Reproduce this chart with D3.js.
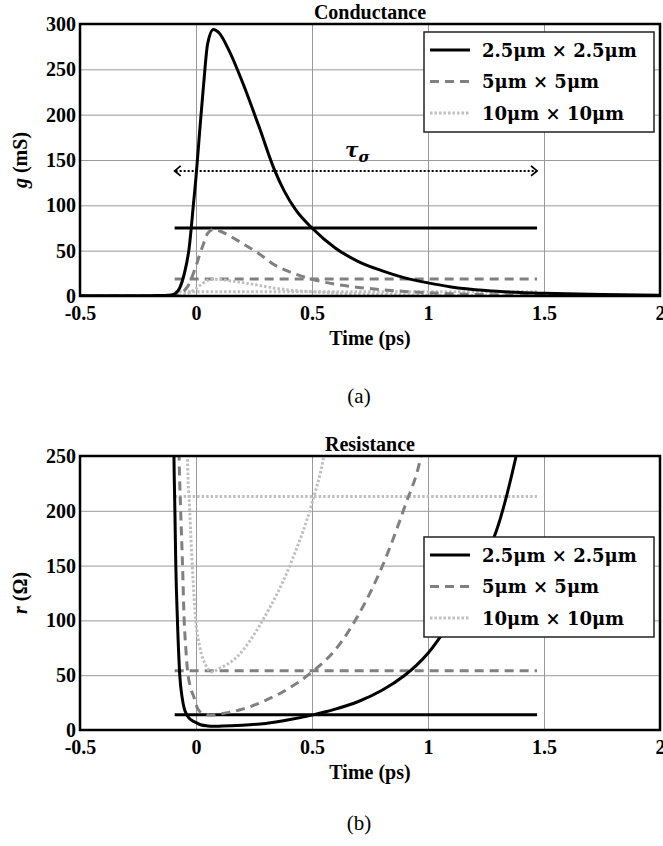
<!DOCTYPE html>
<html lang="en">
<head>
    <meta charset="UTF-8">
    <title>Conductance and Resistance</title>
    <style>
        body { margin: 0; background: #fff; }
        text { font-family: "Liberation Serif", "Times New Roman", serif; }
    </style>
</head>
<body>
<script src="https://cdn.jsdelivr.net/npm/d3@7/dist/d3.min.js"></script>
<script>
    // series labels and style per pad size
    const seriesNames = ["2.5\u03bcm \u00d7 2.5\u03bcm", "5\u03bcm \u00d7 5\u03bcm", "10\u03bcm \u00d7 10\u03bcm"];

    // tick labels
    const xTicks = [-0.5, 0, 0.5, 1, 1.5, 2];
    const gTicks = [0, 50, 100, 150, 200, 250, 300];
    const rTicks = [0, 50, 100, 150, 200, 250];

    // conductance (mS) vs time (ps)
    const tG = [-0.5, -0.3, -0.2, -0.15, -0.12, -0.1, -0.09, -0.07, -0.05, -0.03, -0.01, 0, 0.015, 0.033, 0.05, 0.075, 0.1, 0.14, 0.2, 0.27, 0.34, 0.38, 0.43, 0.5, 0.6, 0.7, 0.8, 0.9, 1.0, 1.1, 1.25, 1.4, 1.5, 1.75, 2.0];
    const gBlack = [0.3, 0.3, 0.4, 0.5, 0.8, 1.5, 2.5, 9, 25, 52, 104, 131, 179, 234, 278, 294, 290, 272, 236, 188, 138, 116, 95, 75, 53, 38, 28, 20, 14.5, 10, 6, 3.8, 3, 1.6, 0.8];
    const gDash = [0.1, 0.1, 0.1, 0.1, 0.2, 0.4, 0.6, 2.2, 6, 13, 26, 33, 45, 58, 69, 73.5, 72, 67, 58, 47, 34, 29, 24, 18.5, 13, 9.5, 7, 5, 3.6, 2.5, 1.5, 1, 0.8, 0.4, 0.2];
    const gDot = [0.02, 0.02, 0.03, 0.03, 0.05, 0.1, 0.2, 0.6, 1.6, 3.3, 6.5, 8.2, 11.2, 14.6, 17.4, 18.4, 18.1, 17, 14.8, 11.8, 8.6, 7.3, 5.9, 4.7, 3.3, 2.4, 1.8, 1.3, 0.9, 0.6, 0.35, 0.24, 0.19, 0.1, 0.05];
    const gMean = [75, 18.7, 4.7];

    // resistance (ohm) vs time (ps)
    const tRBlack = [-0.1, -0.095, -0.091, -0.087, -0.08, -0.07, -0.06, -0.051, -0.04, -0.026, -0.012, 0, 0.02, 0.05, 0.075, 0.1, 0.15, 0.2, 0.3, 0.4, 0.5, 0.6, 0.7, 0.8, 0.9, 0.95, 1.0, 1.05, 1.1, 1.15, 1.2, 1.25, 1.3, 1.38, 1.42];
    const rBlack = [400, 250, 200, 150, 100, 50, 30, 20, 14, 10, 8, 6.8, 4.8, 3.7, 3.4, 3.5, 3.8, 4.3, 6, 9.3, 13.6, 19, 26, 36, 50, 59, 70, 84, 100, 116, 135, 158, 185, 250, 290];
    const tRDash = [-0.08, -0.073, -0.066, -0.058, -0.051, -0.044, -0.037, -0.025, -0.009, 0.006, 0.03, 0.07, 0.1, 0.2, 0.3, 0.4, 0.5, 0.6, 0.7, 0.8, 0.9, 0.97, 1.0];
    const rDash = [350, 250, 200, 150, 100, 75, 55, 40, 30, 20, 15, 13.6, 14.5, 19, 27, 38, 53, 73, 105, 148, 204, 250, 285];
    const tRDot = [-0.045, -0.037, -0.027, -0.016, -0.001, 0.017, 0.04, 0.07, 0.1, 0.178, 0.287, 0.414, 0.5, 0.551, 0.58];
    const rDot = [350, 250, 200, 150, 100, 75, 60, 53, 56, 67, 100, 155, 207, 250, 290];
    const rMean = [14, 54, 213];

    // averaging window (ps)
    const tauStart = -0.092, tauEnd = 1.47;

    const styles = [
        {color: "#000", width: 3, dash: null},
        {color: "#808080", width: 3, dash: "9,6"},
        {color: "#c0c0c0", width: 3, dash: "2.5,2"}
    ];

    const svg = d3.select("body").append("svg")
        .attr("width", 663)
        .attr("height", 846);

    const x0 = 80, x1 = 660;

    function styleTicks(sel) {
        sel.selectAll("text")
            .attr("fill", "#000")
            .style("font-family", "'Liberation Serif', serif")
            .style("font-weight", "bold")
            .style("font-size", "20px");
    }

    function drawPanel(cfg) {
        const xScale = d3.scaleLinear().domain([-0.5, 2]).range([x0, x1]);
        const yScale = d3.scaleLinear().domain(cfg.yDomain).range([cfg.bottom, cfg.top]);
        const g = svg.append("g");

        const clipId = "clip" + cfg.id;
        g.append("clipPath").attr("id", clipId)
            .append("rect")
            .attr("x", x0).attr("y", cfg.top)
            .attr("width", x1 - x0).attr("height", cfg.bottom - cfg.top);

        // grid
        g.append("g")
            .attr("transform", `translate(0,${cfg.bottom})`)
            .call(d3.axisBottom(xScale).tickValues([0, 0.5, 1, 1.5]).tickSize(-(cfg.bottom - cfg.top)).tickFormat(""))
            .call(a => a.select(".domain").remove())
            .selectAll("line").attr("stroke", "#9a9a9a").attr("stroke-width", 1);
        g.append("g")
            .attr("transform", `translate(${x0},0)`)
            .call(d3.axisLeft(yScale).tickValues(cfg.yTicks.slice(1, -1)).tickSize(-(x1 - x0)).tickFormat(""))
            .call(a => a.select(".domain").remove())
            .selectAll("line").attr("stroke", "#9a9a9a").attr("stroke-width", 1);

        // tick labels
        const xAx = g.append("g")
            .attr("transform", `translate(0,${cfg.bottom})`)
            .call(d3.axisBottom(xScale).tickValues(xTicks).tickSize(0).tickPadding(10).tickFormat(d => String(d)));
        xAx.select(".domain").remove();
        styleTicks(xAx);

        const yAx = g.append("g")
            .attr("transform", `translate(${x0},0)`)
            .call(d3.axisLeft(yScale).tickValues(cfg.yTicks).tickSize(0).tickPadding(4));
        yAx.select(".domain").remove();
        styleTicks(yAx);

        // curves
        const plot = g.append("g").attr("clip-path", `url(#${clipId})`);
        const line = d3.line()
            .x(d => xScale(d[0]))
            .y(d => yScale(d[1]))
            .curve(d3.curveMonotoneX);

        // mean lines first, then curves on top
        cfg.mean.forEach((m, i) => {
            plot.append("path")
                .datum([[tauStart, m], [tauEnd, m]])
                .attr("d", line)
                .attr("fill", "none")
                .attr("stroke", styles[i].color)
                .attr("stroke-width", styles[i].width)
                .attr("stroke-dasharray", styles[i].dash);
        });
        for (let i = cfg.series.length - 1; i >= 0; i--) {
            const s = cfg.series[i];
            plot.append("path")
                .datum(s.t.map((t, k) => [t, s.v[k]]))
                .attr("d", line)
                .attr("fill", "none")
                .attr("stroke", styles[i].color)
                .attr("stroke-width", styles[i].width)
                .attr("stroke-dasharray", styles[i].dash);
        }

        // frame
        g.append("rect")
            .attr("x", x0).attr("y", cfg.top)
            .attr("width", x1 - x0).attr("height", cfg.bottom - cfg.top)
            .attr("fill", "none").attr("stroke", "#000").attr("stroke-width", 2.5);

        // title and axis labels
        g.append("text")
            .attr("x", (x0 + x1) / 2).attr("y", cfg.top - 5)
            .attr("text-anchor", "middle")
            .style("font-weight", "bold").style("font-size", "20px")
            .text(cfg.title);
        g.append("text")
            .attr("x", (x0 + x1) / 2).attr("y", cfg.bottom + 49)
            .attr("text-anchor", "middle")
            .style("font-weight", "bold").style("font-size", "20px")
            .text("Time (ps)");
        const yl = g.append("text")
            .attr("transform", `translate(27,${(cfg.top + cfg.bottom) / 2}) rotate(-90)`)
            .attr("text-anchor", "middle")
            .style("font-weight", "bold").style("font-size", "20px");
        yl.append("tspan").style("font-style", "italic").text(cfg.yVar);
        yl.append("tspan").text(" " + cfg.yUnit);

        // caption
        svg.append("text")
            .attr("x", 359).attr("y", cfg.captionY)
            .attr("text-anchor", "middle")
            .style("font-size", "21px")
            .text(cfg.caption);

        // legend
        const lg = g.append("g").attr("transform", `translate(424,${cfg.legendTop})`);
        lg.append("rect")
            .attr("width", 230).attr("height", 100)
            .attr("fill", "#fff").attr("stroke", "#222").attr("stroke-width", 1.5);
        seriesNames.forEach((name, i) => {
            const yy = 18 + i * 31.5;
            lg.append("line")
                .attr("x1", 6).attr("x2", 46).attr("y1", yy).attr("y2", yy)
                .attr("stroke", styles[i].color)
                .attr("stroke-width", styles[i].width)
                .attr("stroke-dasharray", styles[i].dash);
            lg.append("text")
                .attr("x", 58).attr("y", yy + 6.5)
                .style("font-family", "'DejaVu Serif', serif")
                .style("font-weight", "bold").style("font-size", "18px")
                .text(name);
        });

        return {xScale, yScale, g};
    }

    const panelA = drawPanel({
        id: "a", top: 24, bottom: 296, yDomain: [0, 300], yTicks: gTicks,
        title: "Conductance", yVar: "g", yUnit: "(mS)", caption: "(a)", captionY: 403, legendTop: 32,
        mean: gMean,
        series: [{t: tG, v: gBlack}, {t: tG, v: gDash}, {t: tG, v: gDot}]
    });

    drawPanel({
        id: "b", top: 456, bottom: 730, yDomain: [0, 250], yTicks: rTicks,
        title: "Resistance", yVar: "r", yUnit: "(\u03a9)", caption: "(b)", captionY: 830, legendTop: 537,
        mean: rMean,
        series: [{t: tRBlack, v: rBlack}, {t: tRDash, v: rDash}, {t: tRDot, v: rDot}]
    });

    // tau window arrow on the conductance panel
    const tauY = 138;
    const ay = panelA.yScale(tauY), ax1 = panelA.xScale(tauStart), ax2 = panelA.xScale(tauEnd);
    panelA.g.append("line")
        .attr("x1", ax1 + 1).attr("x2", ax2 - 1).attr("y1", ay).attr("y2", ay)
        .attr("stroke", "#000").attr("stroke-width", 2).attr("stroke-dasharray", "2,2");
    panelA.g.append("path")
        .attr("d", `M${ax1 + 6},${ay - 5} L${ax1},${ay} L${ax1 + 6},${ay + 5}`)
        .attr("fill", "none").attr("stroke", "#000").attr("stroke-width", 1.8);
    panelA.g.append("path")
        .attr("d", `M${ax2 - 6},${ay - 5} L${ax2},${ay} L${ax2 - 6},${ay + 5}`)
        .attr("fill", "none").attr("stroke", "#000").attr("stroke-width", 1.8);
    const tau = panelA.g.append("text")
        .attr("x", 345).attr("y", 157)
        .style("font-family", "'DejaVu Serif', serif")
        .style("font-weight", "bold").style("font-style", "italic").style("font-size", "20px");
    tau.append("tspan").text("\u03c4");
    tau.append("tspan").attr("dy", 5).style("font-size", "15px").text("\u03c3");
</script>
</body>
</html>
